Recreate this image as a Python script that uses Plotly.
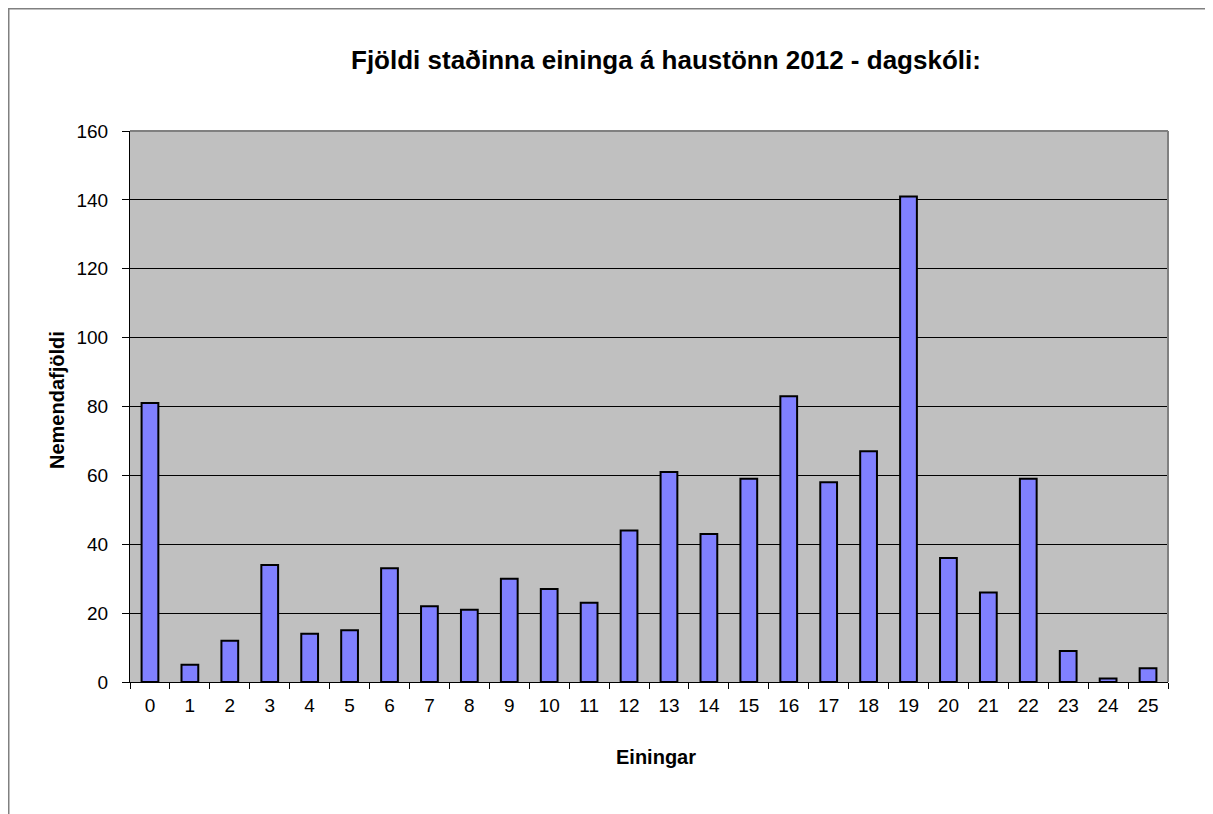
import plotly.graph_objects as go

categories = [str(i) for i in range(26)]
values = [81, 5, 12, 34, 14, 15, 33, 22, 21, 30, 27, 23, 44, 61, 43, 59, 83, 58, 67, 141, 36, 26, 59, 9, 1, 4]
y_ticks = [0, 20, 40, 60, 80, 100, 120, 140, 160]

# page body has an 8px margin; work in figure pixel coordinates
OFF = 8
W, H = 1213 - OFF, 814 - OFF
L, R, T, B = 130 - OFF, 1168 - OFF, 131 - OFF, 682 - OFF

def px_x(p):
    return (p - OFF - L) / (R - L)

def px_y(p):
    return (B - (p - OFF)) / (B - T)

fig = go.Figure(go.Bar(
    x=categories, y=values, width=0.42,
    marker=dict(color="#8080FF", line=dict(color="black", width=2)),
))

font = "Liberation Sans, Arial, sans-serif"
fig.update_layout(
    width=W, height=H,
    margin=dict(l=L, r=W - R, t=T, b=H - B),
    paper_bgcolor="white", plot_bgcolor="#C0C0C0",
    showlegend=False,
    font=dict(family=font, size=19, color="black"),
    xaxis=dict(type="category", range=[-0.5, 25.5], tickson="boundaries",
               ticks="outside", ticklen=6, tickcolor="black", tickwidth=1,
               ticklabelstandoff=6,
               showline=True, linecolor="black", linewidth=1, showgrid=False,
               tickfont=dict(size=19, family=font), fixedrange=True),
    yaxis=dict(range=[0, 160], tickvals=y_ticks, ticks="outside", ticklen=7,
               tickcolor="black", ticklabelstandoff=10,
               showline=True, linecolor="black", linewidth=1,
               showgrid=True, gridcolor="black", gridwidth=1, zeroline=False,
               tickfont=dict(size=19, family=font), fixedrange=True),
    shapes=[
        # outer chart frame (left and top edges visible, right/bottom cropped)
        dict(type="line", xref="paper", yref="paper", x0=px_x(8.5), x1=px_x(8.5),
             y0=px_y(830), y1=px_y(8.5), line=dict(color="#808080", width=2), layer="below"),
        dict(type="line", xref="paper", yref="paper", x0=px_x(8), x1=px_x(1230),
             y0=px_y(8.5), y1=px_y(8.5), line=dict(color="#808080", width=2), layer="below"),
        # plot area border (top, right)
        dict(type="line", xref="paper", yref="paper", x0=0, x1=1, y0=1, y1=1,
             line=dict(color="#808080", width=2)),
        dict(type="line", xref="paper", yref="paper", x0=1, x1=1, y0=0, y1=1,
             line=dict(color="#808080", width=2)),
    ],
    annotations=[
        dict(text="<b>Fjöldi staðinna eininga á haustönn 2012 - dagskóli:</b>",
             xref="paper", yref="paper", x=px_x(666), y=px_y(60), showarrow=False,
             xanchor="center", yanchor="middle", font=dict(size=26, family=font)),
        dict(text="<b>Nemendafjöldi</b>", xref="paper", yref="paper",
             x=px_x(57), y=px_y(400), textangle=-90, showarrow=False,
             xanchor="center", yanchor="middle", font=dict(size=20, family=font)),
        dict(text="<b>Einingar</b>", xref="paper", yref="paper",
             x=px_x(656), y=px_y(757), showarrow=False,
             xanchor="center", yanchor="middle", font=dict(size=20, family=font)),
    ],
)

fig.write_html("out.html")
